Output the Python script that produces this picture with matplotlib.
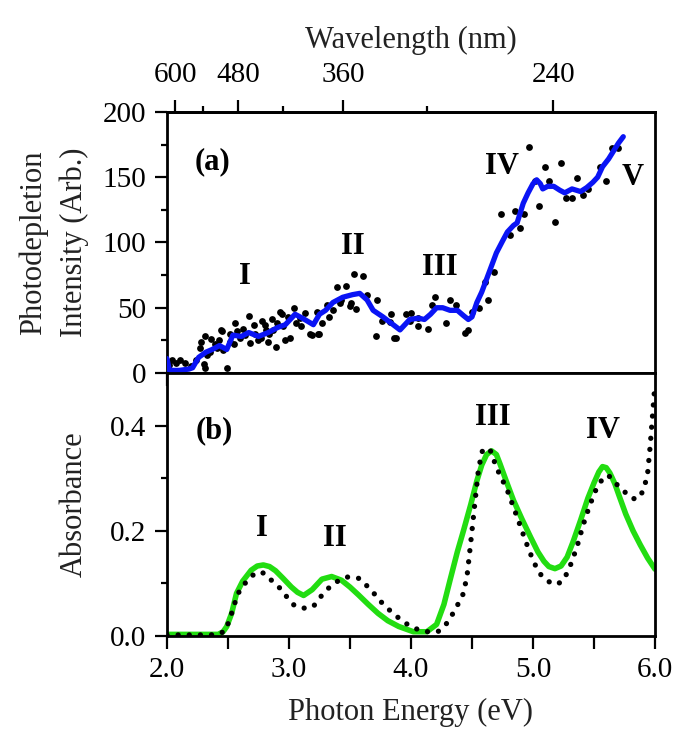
import numpy as np
import matplotlib
matplotlib.use("Agg")
import matplotlib.pyplot as plt
from matplotlib.ticker import FixedLocator, MultipleLocator, FuncFormatter

plt.rcParams["font.family"] = ["Liberation Serif", "DejaVu Serif"]

# ---- (a) photodepletion: raw points ----
dots_e = [2.02, 2.04, 2.07, 2.11, 2.15, 2.20, 2.24, 2.27, 2.28, 2.30, 2.31, 2.31, 2.33, 2.35,
          2.36, 2.39, 2.41, 2.43, 2.44, 2.45, 2.46, 2.49, 2.52, 2.52, 2.55, 2.56, 2.57, 2.60,
          2.62, 2.64, 2.67, 2.68, 2.71, 2.72, 2.75, 2.77, 2.78, 2.80, 2.81, 2.83, 2.84, 2.86,
          2.87, 2.89, 2.90, 2.93, 2.94, 2.95, 2.97, 2.99, 3.01, 3.04, 3.06, 3.09, 3.10, 3.13,
          3.17, 3.19, 3.23, 3.24, 3.25, 3.27, 3.31, 3.33, 3.36, 3.39, 3.42, 3.43, 3.47, 3.50,
          3.51, 3.53, 3.55, 3.61, 3.64, 3.71, 3.72, 3.76, 3.83, 3.84, 3.86, 3.88, 3.96, 3.99,
          4.00, 4.06, 4.06, 4.14, 4.17, 4.20, 4.29, 4.32, 4.37, 4.44, 4.47, 4.50, 4.56, 4.61,
          4.63, 4.68, 4.74, 4.81, 4.85, 4.89, 4.93, 4.97, 5.02, 5.05, 5.10, 5.13, 5.18, 5.23,
          5.27, 5.32, 5.36, 5.41, 5.45, 5.55, 5.60, 5.65, 5.70]
dots_i = [6, 10, 8, 10, 8, 5, 10, 19, 24, 7, 4, 28, 14, 16,
          26, 22, 19, 25, 33, 32, 18, 4, 24, 30, 22, 38, 32, 27,
          34, 29, 44, 23, 37, 30, 25, 27, 40, 37, 33, 24, 30, 41,
          33, 20, 38, 47, 45, 36, 25, 43, 27, 50, 38, 42, 36, 46,
          30, 29, 47, 30, 30, 38, 52, 43, 48, 66, 54, 56, 67, 51,
          54, 76, 49, 74, 60, 28, 56, 40, 39, 45, 27, 27, 45, 40,
          46, 36, 42, 34, 52, 58, 38, 56, 52, 31, 33, 47, 50, 70,
          56, 77, 122, 106, 124, 111, 122, 173, 147, 128, 158, 147, 116, 161,
          134, 134, 149, 136, 141, 158, 147, 172, 172]

# ---- (a) photodepletion: smoothed trace ----
line_e = [2.00, 2.02, 2.10, 2.18, 2.21, 2.26, 2.32, 2.37, 2.43, 2.49, 2.54, 2.61, 2.67, 2.75,
          2.83, 2.91, 2.97, 3.05, 3.11, 3.20, 3.25, 3.30, 3.36, 3.44, 3.52, 3.58, 3.64, 3.69,
          3.77, 3.84, 3.91, 3.99, 4.06, 4.11, 4.16, 4.21, 4.26, 4.32, 4.38, 4.43, 4.47, 4.50,
          4.54, 4.58, 4.62, 4.66, 4.70, 4.75, 4.79, 4.84, 4.87, 4.92, 4.96, 5.00, 5.03, 5.06,
          5.08, 5.12, 5.17, 5.22, 5.26, 5.32, 5.39, 5.44, 5.49, 5.53, 5.57, 5.62, 5.66, 5.70,
          5.74]
line_i = [11, 2, 2, 3, 4, 12, 16, 18, 21, 18, 29, 28, 31, 28,
          31, 35, 37, 45, 42, 37, 45, 48, 54, 58, 60, 61, 56, 48,
          43, 38, 33, 41, 42, 41, 45, 50, 50, 48, 48, 44, 41, 43,
          54, 62, 72, 82, 92, 101, 108, 113, 115, 130, 138, 145, 148, 145,
          141, 143, 143, 140, 138, 141, 139, 142, 146, 150, 158, 164, 170, 176,
          181]

# ---- (b) absorbance: calculated (green) ----
calc_e = [2.00, 2.20, 2.35, 2.42, 2.46, 2.49, 2.53, 2.57, 2.62, 2.69, 2.74, 2.79, 2.84, 2.89,
          2.95, 3.02, 3.07, 3.12, 3.19, 3.27, 3.35, 3.43, 3.50, 3.57, 3.65, 3.73, 3.81, 3.90,
          4.02, 4.13, 4.21, 4.27, 4.32, 4.38, 4.43, 4.49, 4.54, 4.58, 4.62, 4.66, 4.70, 4.73,
          4.78, 4.84, 4.91, 4.98, 5.04, 5.09, 5.13, 5.18, 5.23, 5.28, 5.33, 5.39, 5.45, 5.50,
          5.54, 5.57, 5.60, 5.63, 5.67, 5.71, 5.76, 5.82, 5.88, 5.94, 6.00]
calc_a = [0.003, 0.003, 0.003, 0.003, 0.008, 0.018, 0.043, 0.081, 0.104, 0.125, 0.133, 0.135, 0.132, 0.124,
          0.110, 0.093, 0.083, 0.077, 0.088, 0.108, 0.113, 0.106, 0.093, 0.078, 0.060, 0.043, 0.029, 0.018,
          0.008, 0.008, 0.022, 0.060, 0.106, 0.160, 0.200, 0.250, 0.295, 0.325, 0.345, 0.352, 0.345, 0.327,
          0.295, 0.258, 0.222, 0.188, 0.160, 0.142, 0.132, 0.128, 0.133, 0.150, 0.180, 0.220, 0.262, 0.291,
          0.312, 0.322, 0.320, 0.310, 0.290, 0.264, 0.232, 0.200, 0.173, 0.148, 0.127]

# ---- (b) absorbance: measured (dotted) ----
meas_e = [2.00, 2.20, 2.35, 2.42, 2.48, 2.53, 2.58, 2.64, 2.70, 2.75, 2.80, 2.86, 2.93, 2.99,
          3.04, 3.10, 3.15, 3.20, 3.25, 3.30, 3.35, 3.42, 3.47, 3.53, 3.58, 3.64, 3.70, 3.75,
          3.81, 3.87, 3.93, 4.00, 4.07, 4.14, 4.22, 4.28, 4.32, 4.38, 4.43, 4.46, 4.48, 4.50,
          4.52, 4.55, 4.58, 4.62, 4.65, 4.70, 4.74, 4.78, 4.84, 4.89, 4.94, 5.00, 5.05, 5.11,
          5.17, 5.21, 5.25, 5.30, 5.36, 5.41, 5.46, 5.51, 5.55, 5.59, 5.62, 5.67, 5.71, 5.77,
          5.82, 5.87, 5.91, 5.94, 5.96, 5.98, 6.00]
meas_a = [0.002, 0.002, 0.002, 0.003, 0.010, 0.043, 0.080, 0.100, 0.115, 0.122, 0.119, 0.105, 0.090, 0.072,
          0.059, 0.053, 0.053, 0.056, 0.072, 0.085, 0.097, 0.107, 0.112, 0.112, 0.109, 0.095, 0.080, 0.066,
          0.052, 0.040, 0.028, 0.018, 0.011, 0.008, 0.008, 0.020, 0.033, 0.058, 0.081, 0.115, 0.157, 0.200,
          0.245, 0.310, 0.350, 0.358, 0.353, 0.321, 0.300, 0.283, 0.245, 0.213, 0.180, 0.144, 0.120, 0.106,
          0.098, 0.100, 0.106, 0.130, 0.169, 0.210, 0.245, 0.275, 0.292, 0.304, 0.305, 0.292, 0.283, 0.270,
          0.261, 0.262, 0.280, 0.310, 0.360, 0.420, 0.480]

# wavelength ticks on top axis
wl_major = [600, 480, 360, 240]
wl_minor = [540, 420, 300]

TICK_FS = 21
LABEL_FS = 22
NOTE_FS = 22

fig = plt.figure(figsize=(6.86, 7.46), dpi=100)
ax1 = fig.add_axes([0.2434, 0.5, 0.7114, 0.35])
ax2 = fig.add_axes([0.2434, 0.1475, 0.7114, 0.3525])

tick_kw = dict(direction="out", width=1.6, labelsize=TICK_FS)
for ax in (ax1, ax2):
    for s in ax.spines.values():
        s.set_linewidth(2.0)
    ax.set_xlim(2.0, 6.0)
    ax.xaxis.set_major_locator(MultipleLocator(0.5))
    ax.tick_params(which="major", length=9, pad=6, **tick_kw)
    ax.tick_params(which="minor", length=4.5, **tick_kw)
    ax.tick_params(top=False, right=False)

# panel (a)
ax1.scatter(dots_e, dots_i, s=24, color="black", zorder=2, linewidths=0)
ax1.plot(line_e, line_i, color="#0a14f5", lw=3.8, solid_capstyle="round",
         solid_joinstyle="round", zorder=3)
ax1.set_ylim(0, 200)
ax1.yaxis.set_major_locator(MultipleLocator(50))
ax1.yaxis.set_minor_locator(MultipleLocator(25))
ax1.tick_params(axis="x", labelbottom=False)
ax1.set_ylabel("Photodepletion\nIntensity (Arb.)", fontsize=LABEL_FS, color="#222222",
               linespacing=1.5)
ax1.yaxis.set_label_coords(-0.16, 0.5)

sec = ax1.secondary_xaxis("top", functions=(lambda e: 1239.84 / e, lambda w: 1239.84 / w))
sec.xaxis.set_major_locator(FixedLocator(wl_major))
sec.xaxis.set_minor_locator(FixedLocator(wl_minor))
sec.tick_params(which="major", length=9, width=1.6, direction="out", labelsize=TICK_FS, pad=8)
sec.tick_params(which="minor", length=4.5, width=1.6, direction="out")
sec.spines["top"].set_linewidth(2.0)
sec.set_xlabel("Wavelength (nm)", fontsize=LABEL_FS, color="#222222", labelpad=10)

bold = dict(fontsize=NOTE_FS, fontweight="bold", ha="center", va="center")
ax1.text(2.37, 162, "(a)", **bold)
ax1.text(2.64, 74, "I", **bold)
ax1.text(3.52, 97, "II", **bold)
ax1.text(4.24, 81, "III", **bold)
ax1.text(4.75, 158, "IV", **bold)
ax1.text(5.82, 150, "V", **bold)

# panel (b)
ax2.plot(calc_e, calc_a, color="#22dd11", lw=4.0, solid_capstyle="round", zorder=2)
ax2.plot(meas_e, meas_a, color="black", lw=3.8, linestyle=(0, (0.01, 2.1)),
         dash_capstyle="round", zorder=3)
ax2.set_ylim(0, 0.5)
ax2.yaxis.set_major_locator(FixedLocator([0.0, 0.2, 0.4]))
ax2.yaxis.set_minor_locator(FixedLocator([0.1, 0.3]))
ax2.yaxis.set_major_formatter(FuncFormatter(lambda v, p: f"{v:.1f}"))
ax2.xaxis.set_major_formatter(FuncFormatter(lambda v, p: f"{v:.1f}" if abs(v - round(v)) < 1e-6 else ""))
ax2.set_xlabel("Photon Energy (eV)", fontsize=LABEL_FS, color="#222222", labelpad=11)
ax2.set_ylabel("Absorbance", fontsize=LABEL_FS, color="#222222")
ax2.yaxis.set_label_coords(-0.16, 0.5)

ax2.text(2.39, 0.39, "(b)", **bold)
ax2.text(2.78, 0.205, "I", **bold)
ax2.text(3.38, 0.186, "II", **bold)
ax2.text(4.67, 0.415, "III", **bold)
ax2.text(5.57, 0.39, "IV", **bold)

fig.savefig("out.png", dpi=100)
